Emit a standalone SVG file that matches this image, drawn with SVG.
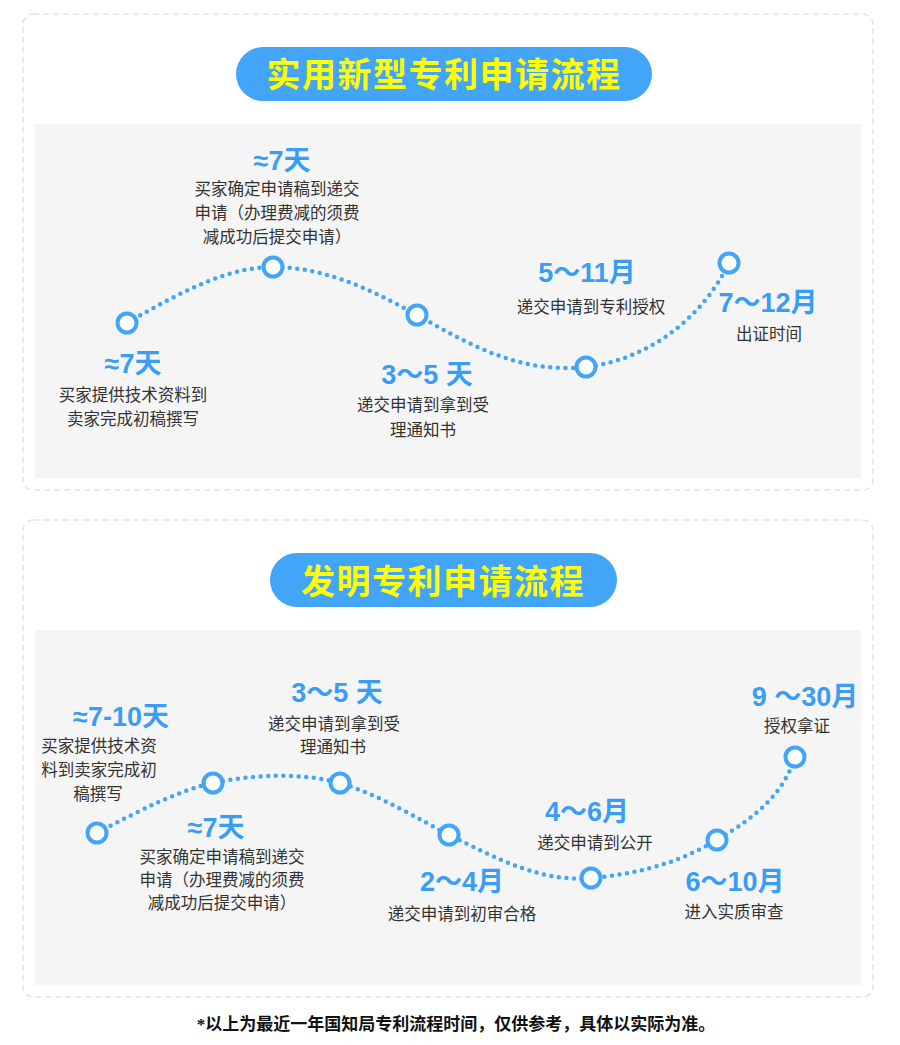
<svg xmlns="http://www.w3.org/2000/svg" width="900" height="1045" viewBox="0 0 900 1045">
<style>
.frame{fill:#fff;stroke:#e3e3e3;stroke-width:1.5;stroke-dasharray:6 4}
.panel{fill:#f5f5f5}
.pill{fill:#42a5f7}
.title{font-family:"Noto Sans CJK SC",sans-serif;font-weight:bold;font-size:34px;fill:#ffff00;text-anchor:middle;letter-spacing:1.5px}
.big{font-family:"Liberation Sans","Noto Sans CJK SC",sans-serif;font-weight:bold;font-size:27px;fill:#3a9df5;text-anchor:middle}
.txt{font-family:"Noto Sans CJK SC",sans-serif;font-size:16.5px;fill:#333;text-anchor:middle}
.dots{fill:none;stroke:#42a5f7;stroke-width:4.5;stroke-linecap:round;stroke-dasharray:0 7.6}
.node circle{fill:#fff;stroke:#42a5f7;stroke-width:4}
.foot{font-family:"Liberation Serif","Noto Sans CJK SC",serif;font-weight:bold;font-size:17px;fill:#111;text-anchor:middle}
</style>
<rect width="900" height="1045" fill="#fff"/>

<!-- Section 1 -->
<rect class="frame" x="23" y="14" width="850" height="476" rx="10"/>
<g id="title1"><rect class="pill" x="236" y="47" width="416" height="54" rx="27"/><text class="title" x="444" y="87">实用新型专利申请流程</text></g>
<rect class="panel" x="35" y="124" width="826" height="354"/>

<g id="connectors1">
<path class="dots" d="M127,323 C180,292 228,267 273,267 C330,267 380,295 417,315 C470,345 520,374 586,367 C645,360 700,322 729,263"/>
</g>

<g id="u1" class="node"><circle cx="127" cy="323" r="9.5"/><text class="big" x="133" y="373">≈7天</text><text class="txt" x="133" y="401">买家提供技术资料到</text><text class="txt" x="133" y="425">卖家完成初稿撰写</text></g>
<g id="u2" class="node"><circle cx="273" cy="267" r="9.5"/><text class="big" x="282" y="170">≈7天</text><text class="txt" x="277" y="195">买家确定申请稿到递交</text><text class="txt" x="277" y="219">申请（办理费减的须费</text><text class="txt" x="277" y="243">减成功后提交申请）</text></g>
<g id="u3" class="node"><circle cx="417" cy="315" r="9.5"/><text class="big" x="427" y="384">3～5 天</text><text class="txt" x="423" y="411">递交申请到拿到受</text><text class="txt" x="423" y="436">理通知书</text></g>
<g id="u4" class="node"><circle cx="586" cy="367" r="9.5"/><text class="big" x="587" y="282">5～11月</text><text class="txt" x="591" y="313">递交申请到专利授权</text></g>
<g id="u5" class="node"><circle cx="729" cy="263" r="9.5"/><text class="big" x="768" y="312">7～12月</text><text class="txt" x="769" y="340">出证时间</text></g>

<!-- Section 2 -->
<rect class="frame" x="23" y="520" width="850" height="477" rx="10"/>
<g id="title2"><rect class="pill" x="270" y="553" width="347" height="54" rx="27"/><text class="title" x="443" y="594">发明专利申请流程</text></g>
<rect class="panel" x="35" y="630" width="826" height="355"/>

<g id="connectors2">
<path class="dots" d="M97,833 C140,810 180,790 213,783 C250,775 300,772 340,783 C380,795 420,820 449,835 C500,860 540,882 591,878 C640,874 680,862 717,840 C760,815 785,790 795,757"/>
</g>

<g id="i1" class="node"><circle cx="97" cy="833" r="9.5"/><text class="big" x="121" y="726">≈7-10天</text><text class="txt" x="99" y="752">买家提供技术资</text><text class="txt" x="99" y="776">料到卖家完成初</text><text class="txt" x="98" y="800">稿撰写</text></g>
<g id="i2" class="node"><circle cx="213" cy="783" r="9.5"/><text class="big" x="216" y="837">≈7天</text><text class="txt" x="222" y="863">买家确定申请稿到递交</text><text class="txt" x="222" y="886">申请（办理费减的须费</text><text class="txt" x="222" y="909">减成功后提交申请）</text></g>
<g id="i3" class="node"><circle cx="340" cy="783" r="9.5"/><text class="big" x="337" y="702">3～5 天</text><text class="txt" x="334" y="730">递交申请到拿到受</text><text class="txt" x="333" y="753">理通知书</text></g>
<g id="i4" class="node"><circle cx="449" cy="835" r="9.5"/><text class="big" x="462" y="891">2～4月</text><text class="txt" x="462" y="920">递交申请到初审合格</text></g>
<g id="i5" class="node"><circle cx="591" cy="878" r="9.5"/><text class="big" x="587" y="821">4～6月</text><text class="txt" x="595" y="849">递交申请到公开</text></g>
<g id="i6" class="node"><circle cx="717" cy="840" r="9.5"/><text class="big" x="735" y="891">6～10月</text><text class="txt" x="734" y="918">进入实质审查</text></g>
<g id="i7" class="node"><circle cx="795" cy="757" r="9.5"/><text class="big" x="805" y="706">9 ～30月</text><text class="txt" x="797" y="732">授权拿证</text></g>

<text class="foot" x="456" y="1030">*以上为最近一年国知局专利流程时间，仅供参考，具体以实际为准。</text>
</svg>
